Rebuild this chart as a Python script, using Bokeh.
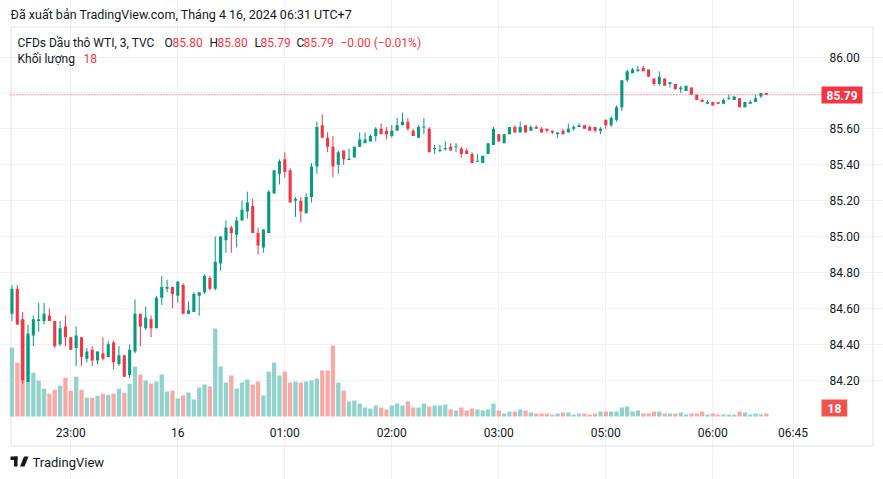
import pandas as pd
from bokeh.plotting import figure
from bokeh.models import (Range1d, FixedTicker, Label, BoxAnnotation,
                          PolyAnnotation, ColumnDataSource, NumeralTickFormatter)
from bokeh.embed import file_html
from bokeh.resources import INLINE

# ---------------- data (3-minute bars, TVC:USOIL) ----------------
opens = [84.57, 84.71, 84.54, 84.19, 84.45, 84.53, 84.53, 84.56, 84.53, 84.40, 84.50, 84.44,
         84.38, 84.44, 84.32, 84.37, 84.31, 84.35, 84.33, 84.41, 84.29, 84.34, 84.23,
         84.36, 84.57, 84.49, 84.54, 84.49, 84.66, 84.71, 84.72, 84.67, 84.73, 84.57, 84.58,
         84.67, 84.69, 84.77, 84.71, 84.85, 84.98, 85.05, 85.01, 85.09, 85.14, 85.17,
         85.02, 84.94, 85.02, 85.24, 85.35, 85.43, 85.37, 85.20, 85.20, 85.13, 85.22, 85.39,
         85.62, 85.55, 85.50, 85.40, 85.48, 85.43, 85.44, 85.50, 85.52, 85.53, 85.56,
         85.60, 85.59, 85.56, 85.59, 85.62, 85.64, 85.59, 85.55, 85.61, 85.60, 85.49, 85.48,
         85.49, 85.50, 85.50, 85.49, 85.48, 85.46, 85.42, 85.41, 85.46, 85.51, 85.57,
         85.52, 85.57, 85.61, 85.58, 85.62, 85.59, 85.61, 85.60, 85.60, 85.59, 85.57, 85.59,
         85.58, 85.60, 85.61, 85.62, 85.61, 85.61, 85.59,
         85.65, 85.62, 85.65, 85.72, 85.87, 85.91, 85.92, 85.94, 85.93, 85.88, 85.85, 85.88,
         85.85, 85.85, 85.82, 85.81, 85.83, 85.79, 85.76, 85.74, 85.75, 85.75, 85.74, 85.77,
         85.76, 85.77, 85.72, 85.74, 85.75, 85.78, 85.80]
highs = [84.73, 84.73, 84.58, 84.51, 84.56, 84.63, 84.63, 84.60, 84.53, 84.53, 84.56, 84.44,
         84.50, 84.44, 84.38, 84.39, 84.36, 84.44, 84.42, 84.42, 84.39, 84.34, 84.40,
         84.65, 84.57, 84.61, 84.56, 84.67, 84.78, 84.76, 84.72, 84.75, 84.74, 84.64, 84.69,
         84.69, 84.79, 84.78, 85.00, 85.00, 85.09, 85.06, 85.11, 85.20, 85.25, 85.21,
         85.05, 85.04, 85.26, 85.37, 85.43, 85.47, 85.38, 85.22, 85.22, 85.24, 85.41, 85.64,
         85.68, 85.58, 85.56, 85.48, 85.48, 85.49, 85.50, 85.58, 85.58, 85.57, 85.61,
         85.63, 85.61, 85.62, 85.66, 85.69, 85.66, 85.60, 85.62, 85.66, 85.61, 85.51, 85.51,
         85.53, 85.52, 85.52, 85.50, 85.49, 85.47, 85.46, 85.45, 85.52, 85.61, 85.57,
         85.57, 85.61, 85.62, 85.64, 85.62, 85.62, 85.62, 85.61, 85.60, 85.59, 85.58, 85.60,
         85.63, 85.62, 85.63, 85.62, 85.62, 85.61, 85.61,
         85.65, 85.67, 85.73, 85.87, 85.93, 85.94, 85.95, 85.95, 85.93, 85.88, 85.92, 85.88,
         85.86, 85.85, 85.84, 85.84, 85.83, 85.79, 85.77, 85.76, 85.75, 85.75, 85.77, 85.79,
         85.78, 85.77, 85.75, 85.76, 85.79, 85.80, 85.80]
lows = [84.53, 84.51, 84.18, 84.19, 84.39, 84.47, 84.51, 84.53, 84.38, 84.39, 84.39, 84.37,
        84.28, 84.28, 84.30, 84.28, 84.29, 84.31, 84.33, 84.26, 84.28, 84.22, 84.21,
        84.35, 84.39, 84.48, 84.44, 84.49, 84.62, 84.69, 84.60, 84.63, 84.57, 84.57, 84.58,
        84.56, 84.68, 84.70, 84.70, 84.81, 84.91, 84.91, 84.94, 85.09, 85.10, 85.02,
        84.90, 84.91, 85.02, 85.24, 85.29, 85.33, 85.19, 85.11, 85.08, 85.13, 85.19, 85.35,
        85.55, 85.47, 85.33, 85.35, 85.40, 85.43, 85.44, 85.50, 85.52, 85.53, 85.53,
        85.57, 85.54, 85.55, 85.59, 85.62, 85.59, 85.56, 85.55, 85.57, 85.47, 85.46, 85.47,
        85.48, 85.48, 85.47, 85.44, 85.46, 85.41, 85.42, 85.41, 85.46, 85.51, 85.53,
        85.52, 85.57, 85.58, 85.58, 85.58, 85.59, 85.60, 85.58, 85.58, 85.57, 85.55, 85.57,
        85.58, 85.59, 85.61, 85.60, 85.59, 85.58, 85.57,
        85.60, 85.61, 85.64, 85.70, 85.86, 85.91, 85.92, 85.92, 85.89, 85.84, 85.84, 85.84,
        85.83, 85.82, 85.80, 85.81, 85.79, 85.76, 85.75, 85.74, 85.73, 85.74, 85.74, 85.76,
        85.76, 85.72, 85.72, 85.74, 85.75, 85.77, 85.79]
closes = [84.71, 84.51, 84.20, 84.46, 84.54, 84.54, 84.57, 84.53, 84.39, 84.49, 84.44, 84.37,
          84.45, 84.33, 84.36, 84.31, 84.36, 84.32, 84.40, 84.30, 84.34, 84.22, 84.37,
          84.57, 84.50, 84.55, 84.49, 84.66, 84.72, 84.72, 84.68, 84.75, 84.57, 84.59, 84.68,
          84.69, 84.78, 84.71, 84.86, 85.00, 85.05, 85.02, 85.09, 85.15, 85.19, 85.02,
          84.95, 85.04, 85.25, 85.37, 85.42, 85.36, 85.19, 85.21, 85.14, 85.22, 85.39, 85.61,
          85.55, 85.50, 85.39, 85.47, 85.43, 85.43, 85.50, 85.54, 85.54, 85.56, 85.60,
          85.57, 85.57, 85.59, 85.62, 85.64, 85.60, 85.56, 85.61, 85.61, 85.47, 85.49, 85.48,
          85.49, 85.48, 85.50, 85.46, 85.46, 85.41, 85.42, 85.45, 85.52, 85.60, 85.53,
          85.57, 85.61, 85.58, 85.61, 85.58, 85.61, 85.60, 85.58, 85.59, 85.58, 85.58, 85.57,
          85.60, 85.61, 85.62, 85.60, 85.59, 85.59, 85.60,
          85.62, 85.66, 85.72, 85.87, 85.92, 85.93, 85.93, 85.92, 85.89, 85.85, 85.89, 85.84,
          85.86, 85.82, 85.83, 85.84, 85.79, 85.76, 85.75, 85.75, 85.73, 85.74, 85.76, 85.77,
          85.78, 85.72, 85.75, 85.75, 85.77, 85.80, 85.79]
volumes = [412, 322, 580, 478, 262, 214, 166, 136, 160, 184, 232, 154, 238, 160, 112, 112, 124,
           136, 130, 136, 166, 142, 196,
           300, 252, 216, 198, 210, 252, 150, 156, 108, 126, 144, 102, 174, 192, 180, 528, 300,
           204, 246, 168, 204, 222, 192,
           210, 126, 270, 324, 246, 270, 204, 210, 204, 210, 216, 228, 276, 276, 426, 204, 156,
           90, 96, 78, 54, 48, 66,
           54, 42, 66, 78, 66, 90, 54, 54, 78, 60, 66, 66, 72, 42, 36, 54, 36, 48, 42, 36, 42,
           78, 36,
           18, 30, 30, 42, 36, 24, 18, 18, 18, 12, 18, 24, 24, 12, 18, 18, 12, 18, 30,
           30, 30, 30, 54, 60, 30, 36, 18, 18, 30, 30, 18, 18, 18, 24, 12, 18, 18, 30, 12, 18,
           12, 12, 12, 12, 30, 24, 12, 18, 12, 18]

session_starts = ["2024-04-15 22:27", "2024-04-16 05:00"]
session_ends = ["2024-04-16 03:57", "2024-04-16 06:30"]
axis_end = "2024-04-16 07:30"

tick_times = ["2024-04-15 23:00", "2024-04-16 00:00", "2024-04-16 01:00", "2024-04-16 02:00",
              "2024-04-16 03:00", "2024-04-16 05:00", "2024-04-16 06:00", "2024-04-16 06:45"]
tick_labels = ["23:00", "16", "01:00", "02:00", "03:00", "05:00", "06:00", "06:45"]
price_ticks = [84.20, 84.40, 84.60, 84.80, 85.00, 85.20, 85.40, 85.60, 85.80, 86.00]
hidden_price_labels = [85.80]   # covered by the last-price tag
last_price = 85.79
last_volume = 18

# ---------------- derived ----------------
bar_times = []
for s, e in zip(session_starts, session_ends):
    bar_times += list(pd.date_range(s, e, freq="3min"))
future = list(pd.date_range(pd.Timestamp(session_ends[-1]) + pd.Timedelta("3min"),
                            axis_end, freq="3min"))
axis_times = bar_times + future
pos = {t: i for i, t in enumerate(axis_times)}
tick_pos = [pos[pd.Timestamp(t)] for t in tick_times]

UP, DOWN = "#089981", "#f23645"
VUP, VDOWN = "#92d2cc", "#f7a9a7"
TXT = "#131722"
n = len(closes)
xs = list(range(n))
up = [c >= o for o, c in zip(opens, closes)]
bt0 = [max(o, c) for o, c in zip(opens, closes)]
bb0 = [min(o, c) for o, c in zip(opens, closes)]
body_top = [t if t - b > 0.004 else (t + b) / 2 + 0.003 for t, b in zip(bt0, bb0)]
body_bot = [b if t - b > 0.004 else (t + b) / 2 - 0.003 for t, b in zip(bt0, bb0)]
src = ColumnDataSource(dict(
    x=xs, o=opens, h=highs, l=lows, c=closes, v=volumes, bt=body_top, bb=body_bot,
    col=[UP if u else DOWN for u in up], vcol=[VUP if u else VDOWN for u in up]))

# ---------------- geometry: frame = whole 883x479 canvas ----------------
W, H = 883, 479
PX_BAR = 5.35          # px per bar
X_BAR0 = 11.45         # page x of first bar
PX_PRICE = 179.6       # px per 1.00 of price
Y_84 = 415.7           # page y of price 84.00
Y_VOL0 = 416           # page y of volume zero
PX_VOL = 1 / 6         # px per volume unit
PANE_L, PANE_R, PANE_T, PANE_B = 10, 821, 27, 416


def dx(px):
    return (px - X_BAR0) / PX_BAR


def dy(py):
    return 84 + (Y_84 - py) / PX_PRICE


p = figure(width=W, height=H, output_backend="svg", toolbar_location=None,
           x_range=Range1d(dx(0), dx(W)), y_range=Range1d(dy(H), dy(0)),
           y_axis_location="right", x_axis_location="below",
           min_border=0, min_border_left=0, min_border_right=0, min_border_top=0,
           min_border_bottom=0, background_fill_color="white", border_fill_color="white")
p.title.visible = False
p.outline_line_color = None
p.extra_y_ranges = {"vol": Range1d(-(H - Y_VOL0) / PX_VOL, Y_VOL0 / PX_VOL)}

# grid limited to the price pane
p.xgrid.ticker = FixedTicker(ticks=tick_pos)
p.ygrid.ticker = FixedTicker(ticks=price_ticks)
p.xgrid.bounds = (dy(PANE_B), dy(PANE_T))
p.ygrid.bounds = (dx(PANE_L), dx(PANE_R))
for g in (p.xgrid, p.ygrid):
    g.grid_line_color = "#f0f1f4"
    g.grid_line_width = 1

# axes drawn at the pane edges
xa = p.xaxis[0]
xa.ticker = FixedTicker(ticks=tick_pos)
xa.major_label_overrides = {tp: lab for tp, lab in zip(tick_pos, tick_labels)}
xa.fixed_location = dy(PANE_B)
ya = p.yaxis[0]
ya.ticker = FixedTicker(ticks=price_ticks)
ya.formatter = NumeralTickFormatter(format="0.00")
ya.major_label_overrides = {t: "" for t in hidden_price_labels}
ya.fixed_location = dx(PANE_R)
for ax in (xa, ya):
    ax.axis_line_color = None
    ax.major_tick_line_color = None
    ax.minor_tick_line_color = None
    ax.major_tick_out = 0
    ax.major_tick_in = 0
    ax.major_label_text_font = "Roboto"
    ax.major_label_text_font_size = "12px"
    ax.major_label_text_color = TXT
xa.major_label_standoff = 9
ya.major_label_standoff = 8

# outer border of the chart (pane + scales)
p.quad(left=[dx(10.5)], right=[dx(872.5)], top=[dy(26.5)], bottom=[dy(445.5)],
       fill_color=None, line_color="#e0e3eb", line_width=1)

# volume
p.vbar(x="x", top="v", bottom=0, width=0.8, source=src, y_range_name="vol",
       fill_color="vcol", line_color=None)
# candles
p.segment(x0="x", x1="x", y0="l", y1="h", source=src, line_color="col", line_width=1)
p.vbar(x="x", top="bt", bottom="bb", width=0.58, source=src, fill_color="col", line_color=None)

# last price line across the pane
p.segment(x0=[dx(PANE_L)], x1=[dx(PANE_R)], y0=[last_price], y1=[last_price],
          line_color=DOWN, line_dash="1 2", line_width=1)


def lab(text, X, Y, color=TXT, size="12px", style="normal", **kw):
    p.add_layout(Label(x=X, y=H - Y, x_units="screen", y_units="screen", text=text,
                       text_font="Roboto", text_font_size=size, text_color=color,
                       text_font_style=style, text_baseline="middle", **kw))


def box(l, r, t, b, **kw):
    p.add_layout(BoxAnnotation(left=l, right=r, top=H - t, bottom=H - b, left_units="screen",
                               right_units="screen", top_units="screen",
                               bottom_units="screen", **kw))


# header texts
lab("Đã xuất bản TradingView.com, Tháng 4 16, 2024 06:31 UTC+7", 10, 14, TXT, "12.5px")
lab("CFDs Dầu thô WTI, 3, TVC", 17, 42)
segs = [("O", 164, TXT), ("85.80", 172, DOWN), ("H", 209, TXT), ("85.80", 217, DOWN),
        ("L", 254, TXT), ("85.79", 260, DOWN), ("C", 296, TXT), ("85.79", 303, DOWN),
        ("−0.00 (−0.01%)", 340, DOWN)]
for t, X, col in segs:
    lab(t, X, 42, col)
lab("Khối lượng", 17, 58)
lab(str(last_volume), 83, 58, DOWN)

# value tags on the price scale
lab(f"{last_price:.2f}", PANE_R, 94.5, "white", "12px", "bold",
    background_fill_color=DOWN, padding=(5, 4))
lab(str(last_volume), PANE_R, 407.5, "white", "12px", "bold",
    background_fill_color="#ef5350", padding=(6, 4))

# footer logo + text
box(10, 17, 456, 459.5, fill_color=TXT, fill_alpha=1, line_color=None)
box(13.5, 17, 456, 466, fill_color=TXT, fill_alpha=1, line_color=None)
p.add_layout(PolyAnnotation(xs=[23.5, 28, 24, 19.5], ys=[H - 456, H - 456, H - 466, H - 466],
                            xs_units="screen", ys_units="screen", fill_color=TXT,
                            fill_alpha=1, line_color=None))
lab("TradingView", 32, 461.5, TXT, "13px")

open("out.html", "w").write(file_html(p, INLINE))
